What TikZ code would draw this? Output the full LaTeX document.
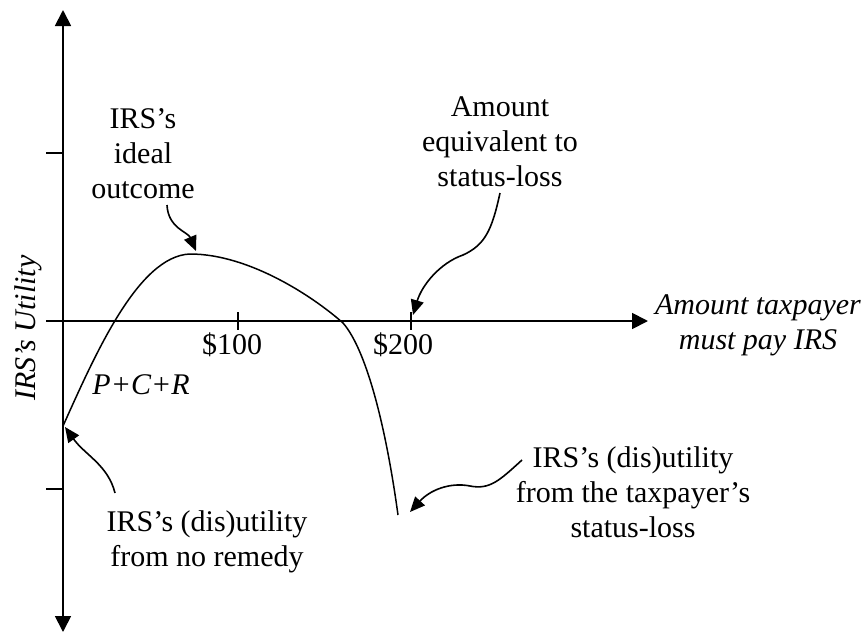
\documentclass[tikz,border=0pt]{standalone}
\usepackage{fontspec}
\setmainfont{Liberation Serif}
\usetikzlibrary{arrows.meta}
\begin{document}
\begin{tikzpicture}[x=1pt,y=-1pt,
  txt/.style={inner sep=0pt,align=center,font=\fontsize{30}{35}\selectfont},
  axis/.style={line width=1.8pt,-{Triangle[length=16pt,width=16pt]}},
  tick/.style={line width=1.6pt},
  curve/.style={line width=1.5pt},
  note/.style={line width=1.6pt,-{Triangle[length=15pt,width=13pt]}}]
\useasboundingbox (0,0) rectangle (865,637);
% axes
\coordinate (O) at (63,321);
\coordinate (ytop) at (63,10);
\coordinate (ybot) at (63,632);
\coordinate (xend) at (648,321);
\draw[axis] (O) -- (ytop);
\draw[axis] (O) -- (ybot);
\draw[axis] (O) -- (xend);
% ticks
\coordinate (ty1) at (63,153);
\coordinate (ty2) at (63,489);
\draw[tick] (ty1) -- ++(-17,0);
\draw[tick] (O) -- ++(-17,0);
\draw[tick] (ty2) -- ++(-17,0);
\coordinate (t100) at (238,321);
\coordinate (t200) at (411,321);
\draw[tick] (t100) ++(0,-9) -- ++(0,18);
\draw[tick] (t200) ++(0,-9) -- ++(0,18);
% labels
\node[txt] (l100) at (232,345) {\$100};
\node[txt] (l200) at (403,345) {\$200};
\node[txt] (pcr) at (141,385) {\textit{P+C+R}};
\node[txt,rotate=90] (ylab) at (28,328) {\textit{IRS’s Utility}};
\node[txt] (xlab) at (758,325) {\textit{Amount taxpayer}\\\textit{must pay IRS}};
% curve
\coordinate (c0) at (63,426);
\coordinate (cpeak) at (190,254);
\coordinate (cmid) at (343,323);
\coordinate (cend) at (398,515);
\draw[curve] (c0) .. controls (95,355) and (138,256) .. (cpeak)
  .. controls (250,254) and (315,298) .. (cmid)
  .. controls (365,348) and (385,420) .. (cend);
% annotations
\node[txt] (ideal) at (143,154) {IRS’s\\ideal\\outcome};
\node[txt] (equiv) at (500,142) {Amount\\equivalent to\\status-loss};
\node[txt] (stat) at (633,492) {IRS’s (dis)utility\\from the taxpayer’s\\status-loss};
\node[txt] (norem) at (207,542) {IRS’s (dis)utility\\from no remedy};
\coordinate (a1s) at (167,205);
\coordinate (a1e) at (196,251);
\draw[note] (a1s) .. controls (168,228) and (188,232) .. (a1e);
\coordinate (a2s) at (500,193);
\coordinate (a2m) at (463,255);
\coordinate (a2e) at (413,315);
\draw[note] (a2s) .. controls (492,230) and (485,245) .. (a2m) .. controls (440,263) and (422,285) .. (a2e);
\coordinate (a3s) at (522,460);
\coordinate (a3m) at (470,486);
\coordinate (a3e) at (410,512);
\draw[note] (a3s) .. controls (500,480) and (490,490) .. (a3m) .. controls (450,482) and (430,490) .. (a3e);
\coordinate (a4s) at (115,493);
\coordinate (a4e) at (65,427);
\draw[note] (a4s) .. controls (108,465) and (85,455) .. (a4e);
\end{tikzpicture}
\end{document}
